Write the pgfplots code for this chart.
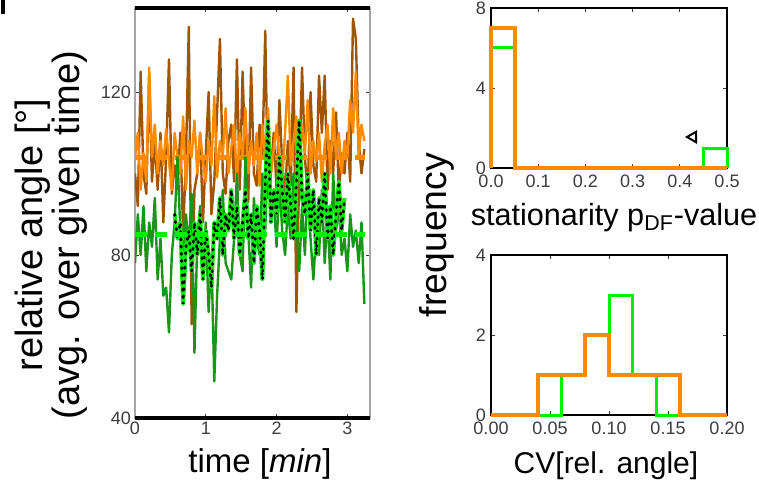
\documentclass[border=0pt]{standalone}
\usepackage{fontspec}
\setmainfont{Liberation Sans}
\usepackage{pgfplots}
\usepackage{pgfplotstable}
\pgfplotsset{compat=1.18}

\definecolor{cbrown}{RGB}{160,84,6}
\definecolor{corange}{RGB}{255,138,0}
\definecolor{cdgreen}{RGB}{24,150,24}
\definecolor{clime}{RGB}{0,238,0}
\definecolor{ctick}{RGB}{60,60,60}

% bright green track, drawn twice (green + black dots)
\pgfplotstableread{
t v
0.56 90
0.60 84
0.64 88
0.68 68
0.72 82
0.76 86
0.80 76
0.84 88
0.88 80
0.92 90
0.96 74
1.00 86
1.04 80
1.08 72
1.12 88
1.16 84
1.20 94
1.24 80
1.28 90
1.32 86
1.36 96
1.40 84
1.44 92
1.48 80
1.52 88
1.56 96
1.60 84
1.64 90
1.68 78
1.72 92
1.76 86
1.80 74
1.84 98
1.88 113
1.92 88
1.96 96
2.00 90
2.04 104
2.08 96
2.12 88
2.16 100
2.20 92
2.24 84
2.28 98
2.32 113
2.36 94
2.40 90
2.44 100
2.48 86
2.52 96
2.56 80
2.60 94
2.64 88
2.68 100
2.72 84
2.76 92
2.80 80
2.84 90
2.88 98
2.92 86
2.96 94
}\tblL

\pgfplotsset{
  tnum/.style={/pgf/number format/assume math mode=true},
  panel/.style={
    scale only axis, anchor=south west,
    tick align=inside, major tick length=2pt,
    tick style={ctick, line width=0.4pt},
    ticklabel style={font=\fontsize{9}{9}\selectfont, text=ctick},
    tnum,
  },
}

\begin{document}
\begin{tikzpicture}
\useasboundingbox (0,0) rectangle (379.5pt,-244pt);
\fill[black] (0.5pt,0) rectangle (2.5pt,-7pt);

% ---- left: time series ----
\begin{axis}[panel,
  at={(67.5pt,-209pt)}, width=117.5pt, height=205pt,
  xmin=0, xmax=3.32, ymin=40, ymax=140.6,
  xtick={0,1,2,3}, ytick={40,80,120},
  axis line style={gray!70, line width=0.8pt},
  xticklabel style={yshift=1.5pt},
  yticklabel style={xshift=1.5pt},
  clip mode=individual,
]
\addplot[cbrown, line width=1.2pt, line join=round] table {
0.00 100
0.04 92
0.08 125
0.12 100
0.16 95
0.20 124
0.24 98
0.28 108
0.32 96
0.36 110
0.40 88
0.44 104
0.48 128
0.52 95
0.56 102
0.60 97
0.64 110
0.68 85
0.72 104
0.76 136
0.80 63
0.84 96
0.88 100
0.92 110
0.96 88
1.00 105
1.04 120
1.08 90
1.12 98
1.16 115
1.20 133
1.24 100
1.28 95
1.32 108
1.36 112
1.40 98
1.44 128
1.48 96
1.52 125
1.56 102
1.60 93
1.64 126
1.68 100
1.72 97
1.76 112
1.80 104
1.84 135
1.88 94
1.92 100
1.96 110
2.00 96
2.04 118
2.08 102
2.12 95
2.16 108
2.20 97
2.24 126
2.28 66
2.32 100
2.36 126
2.40 104
2.44 95
2.48 120
2.52 102
2.56 98
2.60 124
2.64 110
2.68 124
2.72 96
2.76 108
2.80 100
2.84 115
2.88 95
2.92 105
2.96 100
3.00 110
3.04 98
3.08 138
3.12 133
3.16 108
3.20 100
3.24 106
};
\addplot[corange, line width=1.2pt, line join=round] table {
0.00 104
0.04 110
0.08 96
0.12 105
0.16 98
0.20 126
0.24 104
0.28 112
0.32 100
0.36 108
0.40 102
0.44 111
0.48 103
0.52 96
0.56 110
0.60 104
0.64 100
0.68 114
0.72 96
0.76 108
0.80 104
0.84 113
0.88 100
0.92 110
0.96 103
1.00 98
1.04 108
1.08 102
1.12 119
1.16 99
1.20 108
1.24 104
1.28 116
1.32 100
1.36 106
1.40 112
1.44 98
1.48 110
1.52 104
1.56 116
1.60 100
1.64 108
1.68 102
1.72 110
1.76 97
1.80 112
1.84 104
1.88 116
1.92 100
1.96 106
2.00 112
2.04 104
2.08 98
2.12 110
2.16 124
2.20 102
2.24 108
2.28 114
2.32 100
2.36 112
2.40 105
2.44 118
2.48 100
2.52 108
2.56 103
2.60 110
2.64 98
2.68 107
2.72 112
2.76 100
2.80 116
2.84 104
2.88 110
2.92 100
2.96 108
3.00 104
3.04 118
3.08 110
3.12 125
3.16 104
3.20 112
3.24 108
};
\addplot[corange, line width=2.5pt, dash pattern=on 6pt off 4pt] coordinates {(0,104) (3.25,104)};
\addplot[cdgreen, line width=1.2pt, line join=round] table {
0.00 78
0.04 90
0.08 80
0.12 92
0.16 76
0.20 88
0.24 82
0.28 94
0.32 74
0.36 84
0.40 70
0.44 72
0.48 61
0.52 80
0.56 88
0.60 104
0.64 86
0.68 78
0.72 90
0.76 82
0.80 95
0.84 56
0.88 84
0.92 92
0.96 75
1.00 88
1.04 66
1.08 80
1.12 49
1.16 70
1.20 84
1.24 96
1.28 78
1.32 76
1.36 74
1.40 84
1.44 100
1.48 80
1.52 76
1.56 104
1.60 86
1.64 72
1.68 94
1.72 84
1.76 80
1.80 100
1.84 86
1.88 108
1.92 90
1.96 94
2.00 82
2.04 98
2.08 86
2.12 80
2.16 92
2.20 84
2.24 100
2.28 88
2.32 76
2.36 92
2.40 80
2.44 98
2.48 84
2.52 74
2.56 86
2.60 80
2.64 96
2.68 78
2.72 90
2.76 74
2.80 100
2.84 86
2.88 92
2.92 80
2.96 84
3.00 76
3.04 90
3.08 82
3.12 86
3.16 78
3.20 88
3.24 68
};
\addplot[clime, line width=2pt, line join=round] table {\tblL};
\addplot[black, line width=1.4pt, dash pattern=on 0.6pt off 3pt, line cap=round] table {\tblL};
\addplot[clime, line width=2.5pt, dash pattern=on 6pt off 4pt] coordinates {(0,85) (3.25,85)};
\draw[black, line width=1.6pt] (rel axis cs:0,1) -- (rel axis cs:1,1);
\draw[black, line width=1.6pt] (rel axis cs:0,0) -- (rel axis cs:1,0);
\end{axis}

% ---- top right: stationarity ----
\begin{axis}[panel,
  at={(245.5pt,-84pt)}, width=118pt, height=80pt,
  xmin=0, xmax=0.5, ymin=0, ymax=8,
  xtick={0,0.1,0.2,0.3,0.4,0.5}, ytick={0,4,8},
  xticklabel style={/pgf/number format/.cd, fixed, fixed zerofill, precision=1},
  yticklabel style={xshift=1pt},
  axis line style={black, line width=0.9pt},
  clip=false,
]
\addplot[clime, line width=1.5pt, line join=miter] coordinates {
(0,0) (0,6) (0.05,6) (0.05,0) (0.45,0) (0.45,1) (0.5,1) (0.5,0)};
\addplot[corange, line width=2pt, line join=miter] coordinates {
(0,0) (0,7) (0.05,7) (0.05,0) (0.5,0)};
\addplot[only marks, mark=triangle, mark size=3pt, mark options={rotate=90, black, line width=1pt, fill=white}] coordinates {(0.428,1.55)};
\end{axis}

% ---- bottom right: CV ----
\begin{axis}[panel,
  at={(245.5pt,-207.5pt)}, width=118pt, height=80pt,
  xmin=0, xmax=0.2, ymin=0, ymax=4,
  xtick={0,0.05,0.1,0.15,0.2}, ytick={0,2,4},
  xticklabel style={/pgf/number format/.cd, fixed, fixed zerofill, precision=2},
  yticklabel style={xshift=1pt},
  axis line style={black, line width=0.9pt},
  clip=false,
]
\addplot[clime, line width=1.5pt, line join=miter] coordinates {
(0,0) (0.06,0) (0.06,1) (0.08,1) (0.08,2) (0.10,2) (0.10,3) (0.12,3) (0.12,1) (0.14,1) (0.14,0) (0.2,0)};
\addplot[corange, line width=2pt, line join=miter] coordinates {
(0,0) (0.04,0) (0.04,1) (0.08,1) (0.08,2) (0.10,2) (0.10,1) (0.16,1) (0.16,0) (0.2,0)};
\end{axis}

% ---- labels ----
\node[rotate=90, align=center, font=\fontsize{19}{17.5}\selectfont] at (25.5pt,-117.5pt)
  {relative angle [°]\\(avg. over given time)};
\node[font=\fontsize{16.5}{16.5}\selectfont] at (130pt,-232pt) {time [\textit{min}]};
\node[font=\fontsize{15.3}{15.3}\selectfont] at (307pt,-109pt) {stationarity p\textsubscript{DF}-value};
\node[font=\fontsize{15}{15}\selectfont] at (303pt,-233pt) {CV[rel. angle]};
\node[rotate=90, font=\fontsize{18.7}{18.7}\selectfont] at (218.5pt,-117.5pt) {frequency};
\end{tikzpicture}
\end{document}
